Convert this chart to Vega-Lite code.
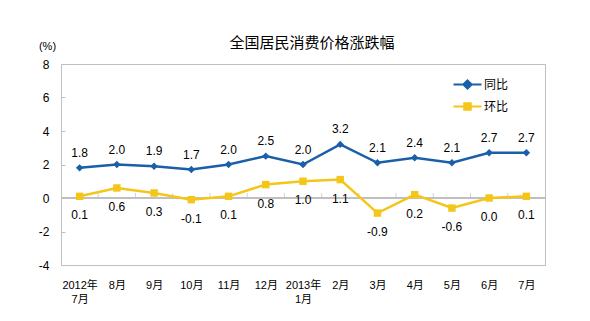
{
  "$schema": "https://vega.github.io/schema/vega-lite/v6.json",
  "autosize": "none",
  "width": 484,
  "height": 201,
  "padding": {"left": 61, "top": 64, "right": 45, "bottom": 56},
  "background": "white",
  "config": {
    "view": {"stroke": "#bfbfbf", "strokeWidth": 1},
    "font": "Liberation Sans, Noto Sans CJK SC",
    "locale": {
      "number": {"decimal": ".", "thousands": ",", "grouping": [3], "currency": ["", ""], "minus": "-"}
    }
  },
  "title": {
    "text": "全国居民消费价格涨跌幅",
    "font": "Noto Sans CJK SC",
    "fontSize": 15,
    "fontWeight": "normal",
    "color": "#000000",
    "anchor": "middle",
    "dx": 9,
    "dy": 25,
    "offset": 14
  },
  "data": {
    "values": [
      {"month": "2012年\n7月", "series": "同比", "value": 1.8},
      {"month": "8月", "series": "同比", "value": 2.0},
      {"month": "9月", "series": "同比", "value": 1.9},
      {"month": "10月", "series": "同比", "value": 1.7},
      {"month": "11月", "series": "同比", "value": 2.0},
      {"month": "12月", "series": "同比", "value": 2.5},
      {"month": "2013年\n1月", "series": "同比", "value": 2.0},
      {"month": "2月", "series": "同比", "value": 3.2},
      {"month": "3月", "series": "同比", "value": 2.1},
      {"month": "4月", "series": "同比", "value": 2.4},
      {"month": "5月", "series": "同比", "value": 2.1},
      {"month": "6月", "series": "同比", "value": 2.7},
      {"month": "7月", "series": "同比", "value": 2.7},
      {"month": "2012年\n7月", "series": "环比", "value": 0.1},
      {"month": "8月", "series": "环比", "value": 0.6},
      {"month": "9月", "series": "环比", "value": 0.3},
      {"month": "10月", "series": "环比", "value": -0.1},
      {"month": "11月", "series": "环比", "value": 0.1},
      {"month": "12月", "series": "环比", "value": 0.8},
      {"month": "2013年\n1月", "series": "环比", "value": 1.0},
      {"month": "2月", "series": "环比", "value": 1.1},
      {"month": "3月", "series": "环比", "value": -0.9},
      {"month": "4月", "series": "环比", "value": 0.2},
      {"month": "5月", "series": "环比", "value": -0.6},
      {"month": "6月", "series": "环比", "value": 0.0},
      {"month": "7月", "series": "环比", "value": 0.1}
    ]
  },
  "encoding": {
    "x": {
      "field": "month",
      "type": "ordinal",
      "sort": null,
      "scale": {"type": "point", "padding": 0.5},
      "axis": {
        "orient": "bottom",
        "title": null,
        "domain": false,
        "ticks": false,
        "labelAngle": 0,
        "labelPadding": 14,
        "labelFontSize": 11,
        "labelColor": "#000000",
        "labelLineHeight": 14,
        "labelFont": "Liberation Sans, Noto Sans CJK SC",
        "labelExpr": "split(datum.label, '\\n')"
      }
    },
    "y": {
      "field": "value",
      "type": "quantitative",
      "scale": {"domain": [-4, 8], "nice": false, "zero": false},
      "axis": {
        "values": [-4, -2, 0, 2, 4, 6, 8],
        "title": "(%)",
        "titleAngle": 0,
        "titleAlign": "center",
        "titleBaseline": "middle",
        "titleX": -14,
        "titleY": -18,
        "titleFontSize": 11,
        "titleFontWeight": "normal",
        "titleFont": "Liberation Sans",
        "titleColor": "#000000",
        "grid": false,
        "domain": false,
        "tickSize": -4,
        "tickColor": "#bfbfbf",
        "labelPadding": 16,
        "labelFontSize": 12,
        "labelColor": "#000000"
      }
    },
    "color": {
      "field": "series",
      "type": "nominal",
      "scale": {"domain": ["同比", "环比"], "range": ["#1a5fa8", "#f5c518"]},
      "legend": {
        "title": null,
        "orient": "none",
        "legendX": 396,
        "legendY": 10,
        "labelFontSize": 12,
        "labelFont": "Noto Sans CJK SC",
        "labelColor": "#000000",
        "symbolType": "M-1.5,0H1.5",
        "symbolSize": 348,
        "symbolOffset": 0,
        "labelOffset": 6,
        "rowPadding": 3,
        "encode": {
          "symbols": {
            "update": {
              "shape": {"signal": "datum.value == '同比' ? 'M-1.5,0H1.5M-0.45,0L0,-0.45L0.45,0L0,0.45Z' : 'M-1.5,0H1.5M-0.35,-0.35H0.35V0.35H-0.35Z'"},
              "stroke": {"signal": "datum.value == '同比' ? '#1a5fa8' : '#f5c518'"},
              "fill": {"signal": "datum.value == '同比' ? '#1a5fa8' : '#f5c518'"},
              "strokeWidth": {"value": 2},
              "opacity": {"value": 1}
            }
          }
        }
      }
    }
  },
  "layer": [
    {
      "mark": {"type": "rule", "color": "#bfbfbf", "strokeWidth": 1},
      "encoding": {
        "x": {"value": 0},
        "x2": {"value": 484},
        "y": {"datum": 0},
        "color": {"value": "#bfbfbf"}
      }
    },
    {
      "transform": [{"filter": "datum.series == '同比' && datum.month != '7月'"}],
      "mark": {"type": "tick", "orient": "vertical", "size": 5, "thickness": 1, "xOffset": 18.6, "yOffset": -2.5, "color": "#bfbfbf"},
      "encoding": {
        "y": {"datum": 0},
        "color": {"value": "#bfbfbf"}
      }
    },
    {
      "mark": {"type": "line", "strokeWidth": 2.5}
    },
    {
      "mark": {"type": "point", "filled": true, "opacity": 1},
      "encoding": {
        "shape": {
          "condition": {"test": "datum.series == '同比'", "value": "diamond"},
          "value": "square"
        },
        "size": {"value": 55}
      }
    },
    {
      "transform": [{"filter": "datum.series == '同比'"}],
      "mark": {"type": "text", "dy": -15, "fontSize": 12, "font": "Liberation Sans"},
      "encoding": {
        "text": {"field": "value", "type": "quantitative", "format": ".1f"},
        "color": {"value": "#000000"}
      }
    },
    {
      "transform": [{"filter": "datum.series == '环比'"}],
      "mark": {"type": "text", "dy": 19, "fontSize": 12, "font": "Liberation Sans"},
      "encoding": {
        "text": {"field": "value", "type": "quantitative", "format": ".1f"},
        "color": {"value": "#000000"}
      }
    }
  ]
}
